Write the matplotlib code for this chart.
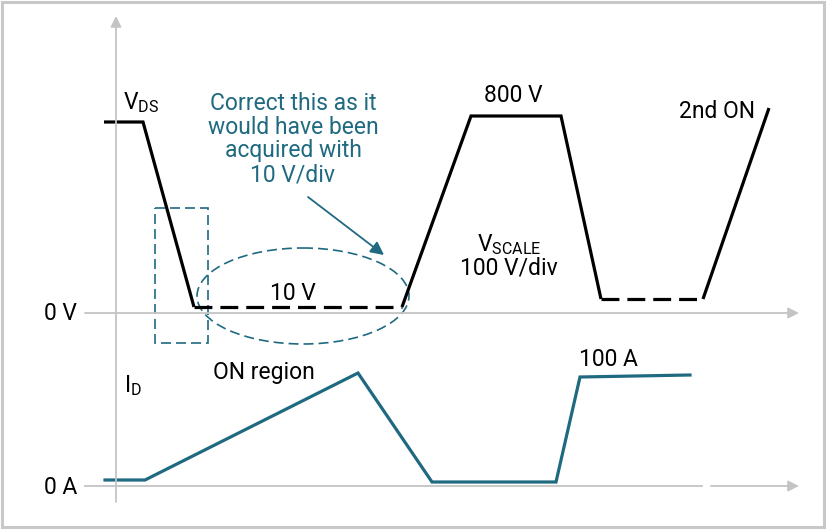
import matplotlib.pyplot as plt
from matplotlib.patches import Ellipse, Rectangle

plt.rcParams['font.family'] = ['Roboto', 'DejaVu Sans']
plt.rcParams['mathtext.fontset'] = 'custom'
plt.rcParams['mathtext.rm'] = 'Roboto'

TEAL = '#1f6a80'
GRAY = '#c4c4c4'

# schematic drawing units (x right, y down)
vds_x_hi1 = [104, 143, 194]
vds_y_hi1 = [122, 122, 307]
vds_x_on1 = [194, 402]
vds_y_on1 = [307, 307]
vds_x_mid = [402, 471, 561, 601]
vds_y_mid = [307, 116, 116, 299]
vds_x_on2 = [601, 703]
vds_y_on2 = [299, 299]
vds_x_end = [703, 769]
vds_y_end = [299, 108]

id_x = [105, 145, 358, 432, 556, 580, 690]
id_y = [480, 480, 373, 482, 482, 377, 375]

fig = plt.figure(figsize=(8.27, 5.30), dpi=100)
ax = fig.add_axes([0, 0, 1, 1])
ax.set_xlim(0, 827)
ax.set_ylim(530, 0)
ax.axis('off')

# outer frame
ax.add_patch(Rectangle((2, 2), 822, 525, fill=False, ec='#c8c8c8', lw=2.2))

# axes (gray arrows)
akw = dict(arrowstyle='-|>', color=GRAY, lw=1.3, mutation_scale=16, shrinkA=0, shrinkB=0)
ax.annotate('', xy=(116, 16), xytext=(116, 502), arrowprops=akw)
ax.annotate('', xy=(799, 313), xytext=(85, 313), arrowprops=akw)
ax.plot([85, 702], [486, 486], color=GRAY, lw=1.3)
ax.annotate('', xy=(799, 486), xytext=(711, 486), arrowprops=akw)

# V_DS trace
kw = dict(color='black', lw=2.3, solid_joinstyle='miter', solid_capstyle='butt')
ax.plot(vds_x_hi1, vds_y_hi1, **kw)
ax.plot(vds_x_mid, vds_y_mid, **kw)
ax.plot(vds_x_end, vds_y_end, **kw)
ax.plot(vds_x_on1, vds_y_on1, color='black', lw=2.3, ls=(0, (5.6, 2.5)))
ax.plot(vds_x_on2, vds_y_on2, color='black', lw=2.3, ls=(0, (5.6, 2.5)))

# I_D trace
ax.plot(id_x, id_y, color=TEAL, lw=2.3, solid_joinstyle='miter')

# highlight shapes
ax.add_patch(Ellipse((303, 296), 212, 96, fill=False, ec=TEAL, lw=1.2, ls=(0, (6, 3))))
ax.add_patch(Rectangle((155, 208), 53, 135, fill=False, ec=TEAL, lw=1.2, ls=(0, (6, 3))))
ax.annotate('', xy=(384, 255), xytext=(308, 197),
            arrowprops=dict(arrowstyle='-|>', color=TEAL, lw=1.3, mutation_scale=20, shrinkA=0, shrinkB=0))

# labels
fs = 16.5
ax.text(123, 103, r'V$_{\mathregular{DS}}$', fontsize=fs, va='center', ha='left')
ax.text(293, 139, 'Correct this as it\nwould have been\nacquired with\n10 V/div',
        fontsize=fs, color=TEAL, ha='center', va='center', linespacing=1.05)
ax.text(293, 293, '10 V', fontsize=fs, ha='center', va='center')
ax.text(77, 314, '0 V', fontsize=fs, ha='right', va='center')
ax.text(77, 487, '0 A', fontsize=fs, ha='right', va='center')
ax.text(513, 95, '800 V', fontsize=fs, ha='center', va='center')
ax.text(717, 111, '2nd ON', fontsize=fs, ha='center', va='center')
ax.text(477, 245, r'V$_{\mathregular{SCALE}}$', fontsize=fs, ha='left', va='center')
ax.text(509, 268, '100 V/div', fontsize=fs, ha='center', va='center')
ax.text(124, 386, r'I$_{\mathregular{D}}$', fontsize=fs, ha='left', va='center')
ax.text(264, 372, 'ON region', fontsize=fs, ha='center', va='center')
ax.text(608, 359, '100 A', fontsize=fs, ha='center', va='center')

fig.savefig('out.png', dpi=100)
